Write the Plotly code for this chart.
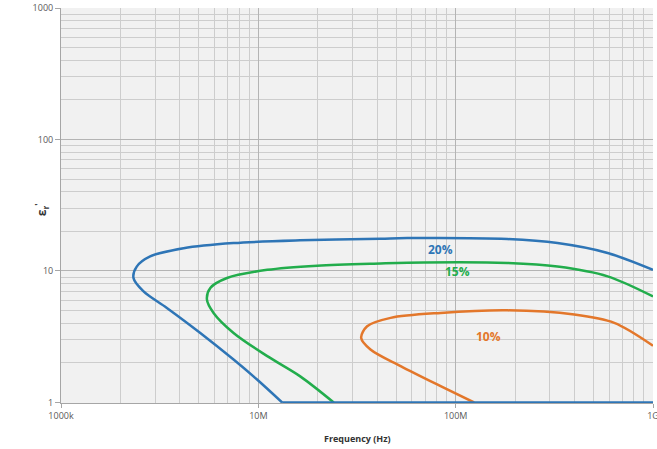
import math
import plotly.graph_objects as go

# Frequency (Hz) and eps_r' values
blue_x = [1e9, 5.89e8, 3.28e8, 1.83e8, 5.68e7, 4.16e7, 1.63e7, 7.49e6, 4.18e6, 2.83e6,
          2.42e6, 2.33e6, 2.62e6, 3.44e6, 5.08e6, 7.49e6, 9.85e6, 1.32e7]
blue_y = [10.2, 13.7, 16.3, 17.5, 17.8, 17.6, 17.1, 16.3, 14.9, 12.9,
          10.8, 8.85, 7.0, 5.24, 3.38, 2.12, 1.495, 1.0]
blue_base_x = [1.32e7, 1e9]
blue_base_y = [1.0, 1.0]

green_x = [1e9, 5.89e8, 3.28e8, 1.83e8, 6.90e7, 4.16e7, 1.99e7, 1.11e7, 6.94e6, 5.71e6,
           5.49e6, 5.93e6, 7.49e6, 1.11e7, 1.63e7, 2.41e7]
green_y = [6.4, 9.1, 10.8, 11.5, 11.6, 11.4, 10.97, 10.2, 8.85, 7.43,
           6.05, 4.80, 3.38, 2.25, 1.58, 1.0]

orange_x = [1e9, 6.36e8, 3.99e8, 1.83e8, 8.39e7, 4.68e7, 3.56e7, 3.32e7, 3.70e7, 5.26e7,
            8.39e7, 1.24e8]
orange_y = [2.70, 4.03, 4.66, 5.02, 4.80, 4.40, 3.80, 3.10, 2.53, 1.89,
            1.33, 1.0]

x_tick_vals = [1e6, 1e7, 1e8, 1e9]
x_tick_text = ["1000k", "10M", "100M", "1G"]
y_tick_vals = [1, 10, 100, 1000]
y_tick_text = ["1", "10", "100", "1000"]

labels_text = ["20%", "15%", "10%"]
labels_x = [8.4e7, 1.02e8, 1.47e8]
labels_y = [14.5, 9.9, 3.17]

BLUE = "#2e75b6"
GREEN = "#22ad4c"
ORANGE = "#e3772b"

fig = go.Figure()
fig.add_trace(go.Scatter(x=blue_x, y=blue_y, mode="lines",
                         line=dict(color=BLUE, width=2.5, shape="spline", smoothing=0.9)))
fig.add_trace(go.Scatter(x=green_x, y=green_y, mode="lines",
                         line=dict(color=GREEN, width=2.5, shape="spline", smoothing=0.9)))
fig.add_trace(go.Scatter(x=orange_x, y=orange_y, mode="lines",
                         line=dict(color=ORANGE, width=2.5, shape="spline", smoothing=0.9)))
fig.add_trace(go.Scatter(x=blue_base_x, y=blue_base_y, mode="lines",
                         line=dict(color=BLUE, width=2.2)))

for t, xx, yy, c in zip(labels_text, labels_x, labels_y, [BLUE, GREEN, ORANGE]):
    fig.add_annotation(x=math.log10(xx), y=math.log10(yy), xref="x", yref="y",
                       text="<b>%s</b>" % t, showarrow=False,
                       font=dict(family="Open Sans, sans-serif", size=12, color=c))

# axis titles as paper annotations
fig.add_annotation(x=0.5, y=-0.068, xref="paper", yref="paper", yanchor="top",
                   text="<b>Frequency (Hz)</b>", showarrow=False,
                   font=dict(family="Open Sans, sans-serif", size=9, color="#333333"))
fig.add_annotation(x=-0.052, y=0.49, xref="paper", yref="paper", textangle=-90,
                   text="<b>ε<sub>r</sub><sup>'</sup></b>", showarrow=False,
                   font=dict(family="Open Sans, sans-serif", size=12, color="#333333"))

grid_major = "#b4b4b4"
grid_minor = "#cdcdcd"

fig.update_layout(
    width=657, height=449,
    margin=dict(l=61, r=4, t=8, b=46, autoexpand=False),
    paper_bgcolor="white",
    plot_bgcolor="#f1f1f1",
    showlegend=False,
    font=dict(family="Open Sans, sans-serif", size=9, color="#595959"),
)
fig.update_xaxes(
    type="log", range=[6, 9], tickvals=x_tick_vals, ticktext=x_tick_text,
    automargin=False, ticklabeloverflow="allow",
    showgrid=True, gridcolor=grid_major, gridwidth=1.2,
    minor=dict(showgrid=True, gridcolor=grid_minor, dtick="D1", gridwidth=1),
    showline=True, linecolor="#a6a6a6", linewidth=1,
    ticks="outside", ticklen=4, tickcolor="#a6a6a6",
    zeroline=False,
)
fig.update_yaxes(
    type="log", range=[-0.004, 3], tickvals=y_tick_vals, ticktext=y_tick_text,
    automargin=False,
    showgrid=True, gridcolor=grid_major, gridwidth=1.2,
    minor=dict(showgrid=True, gridcolor=grid_minor, dtick="D1", gridwidth=1),
    showline=True, linecolor="#a6a6a6", linewidth=1,
    ticks="outside", ticklen=5, tickcolor="#a6a6a6",
    zeroline=False,
)

fig.write_html("out.html", config={"displayModeBar": False},
               post_script="document.body.style.margin='0';document.body.style.overflow='hidden';")
